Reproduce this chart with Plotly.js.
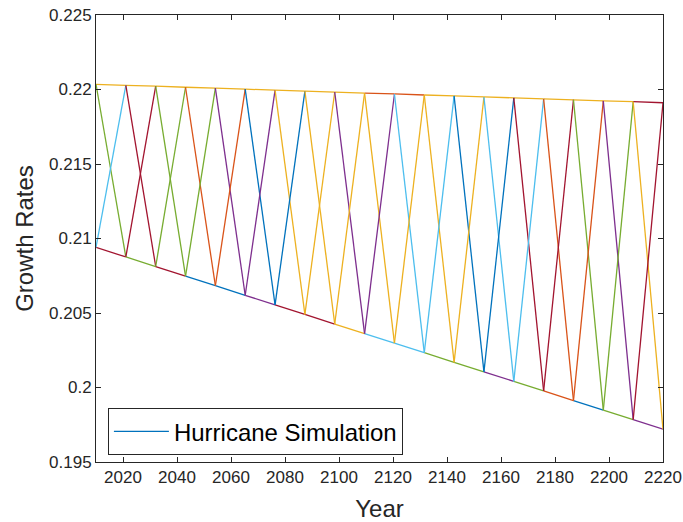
<!DOCTYPE html>
<html>
<head>
<meta charset="utf-8">
<script src="https://cdn.plot.ly/plotly-3.0.1.min.js"></script>
<style>html,body{margin:0;padding:0;background:#fff;}#chart{width:683px;height:522px;}</style>
</head>
<body>
<div id="chart"></div>
<script>
// Simulation time points (years)
const years = [2010, 2021.05, 2032.11, 2043.16, 2054.21, 2065.26, 2076.32, 2087.37, 2098.42, 2109.47,
               2120.53, 2131.58, 2142.63, 2153.68, 2164.74, 2175.79, 2186.84, 2197.89, 2208.95, 2220];
// Growth rate without hurricane (upper path)
const upper = [0.22035, 0.22028, 0.22022, 0.22015, 0.22009, 0.22002, 0.21996, 0.21989, 0.21983, 0.21976,
               0.21970, 0.21963, 0.21957, 0.21950, 0.21944, 0.21937, 0.21931, 0.21924, 0.21918, 0.21911];
// Growth rate in a hurricane year (lower path)
const lower = [0.20940, 0.20876, 0.20812, 0.20747, 0.20683, 0.20619, 0.20555, 0.20490, 0.20426, 0.20362,
               0.20298, 0.20234, 0.20169, 0.20105, 0.20041, 0.19977, 0.19912, 0.19848, 0.19784, 0.19720];
// Visible colour of each interval's segment (b blue, o orange, y yellow, p purple, g green, c light blue, r dark red)
const topColors    = ['y','y','y','y','y','y','y','y','y','o','o','y','y','y','y','y','y','y','r'];
const bottomColors = ['r','g','r','b','b','p','r','r','y','c','c','g','g','p','g','o','b','g','p'];
const downColors   = ['g','r','g','o','p','b','y','y','p','y','c','y','b','c','r','o','g','p','y'];
const upColors     = ['c','r','g','g','o','p','b','y','y','p','y','c','y','b','c','r','o','g','r'];
const legendName = 'Hurricane Simulation';

const palette = {b:'#0072BD', o:'#D95319', y:'#EDB120', p:'#7E2F8E', g:'#77AC30', c:'#4DBEEE', r:'#A2142F'};

const traces = [];
let legendDone = false;
function seg(x0, y0, x1, y1, c) {
  const t = {x:[x0, x1], y:[y0, y1], type:'scatter', mode:'lines',
             line:{color:palette[c], width:1.3}, hoverinfo:'skip', showlegend:false};
  if (!legendDone && c === 'b') { t.showlegend = true; t.name = legendName; legendDone = true; }
  traces.push(t);
}
for (let i = 0; i < years.length - 1; i++) {
  seg(years[i], upper[i], years[i+1], upper[i+1], topColors[i]);
  seg(years[i], lower[i], years[i+1], lower[i+1], bottomColors[i]);
}
for (let i = 0; i < years.length - 1; i++) {
  seg(years[i], upper[i], years[i+1], lower[i+1], downColors[i]);
  seg(years[i], lower[i], years[i+1], upper[i+1], upColors[i]);
}

const xTicks = [2020, 2040, 2060, 2080, 2100, 2120, 2140, 2160, 2180, 2200, 2220];
const yTicks = [0.195, 0.2, 0.205, 0.21, 0.215, 0.22, 0.225];
const yTickText = ['0.195', '0.2', '0.205', '0.21', '0.215', '0.22', '0.225'];

const axisCol = '#262626';
const layout = {
  width: 683, height: 522,
  margin: {l: 96, r: 20, t: 15, b: 60},
  paper_bgcolor: '#fff', plot_bgcolor: '#fff',
  font: {family: 'Liberation Sans, Arial, sans-serif', color: axisCol},
  showlegend: true,
  xaxis: {
    range: [2010, 2220], tickvals: xTicks, ticks: 'inside', ticklen: 5, tickcolor: axisCol,
    showline: true, linecolor: axisCol, linewidth: 1, mirror: 'ticks',
    showgrid: false, zeroline: false, tickfont: {size: 17, color: axisCol},
    title: {text: 'Year', font: {size: 24, color: axisCol}, standoff: 13}
  },
  yaxis: {
    range: [0.195, 0.225], tickvals: yTicks, ticktext: yTickText, ticks: 'inside', ticklen: 5, tickcolor: axisCol,
    showline: true, linecolor: axisCol, linewidth: 1, mirror: 'ticks',
    showgrid: false, zeroline: false, tickfont: {size: 17, color: axisCol},
    title: {text: 'Growth Rates', font: {size: 24, color: axisCol}, standoff: 8}
  },
  legend: {
    x: 0.021, y: 0.12, xanchor: 'left', yanchor: 'top',
    bgcolor: '#fff', bordercolor: axisCol, borderwidth: 1,
    itemwidth: 55,
    font: {size: 24, color: '#000'}
  }
};
Plotly.newPlot('chart', traces, layout, {displayModeBar: false, staticPlot: true});
</script>
</body>
</html>
